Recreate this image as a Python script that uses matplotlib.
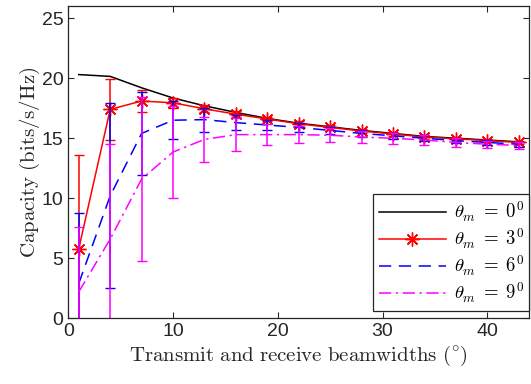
import matplotlib
matplotlib.use("Agg")
import matplotlib.pyplot as plt

# beamwidth grid (degrees) and mean capacity per misalignment angle
beamwidth = [1, 4, 7, 10, 13, 16, 19, 22, 25, 28, 31, 34, 37, 40, 43]

cap_0 = [20.3, 20.15, 19.2, 18.35, 17.7, 17.15, 16.65, 16.25, 15.95, 15.65, 15.4, 15.15, 15.0, 14.85, 14.7]

cap_3 = [5.8, 17.4, 18.1, 17.95, 17.45, 17.0, 16.6, 16.2, 15.9, 15.6, 15.35, 15.1, 14.95, 14.8, 14.65]
err_3 = [7.8, 2.55, 0.9, 0.4, 0.3, 0.25, 0.2, 0.2, 0.2, 0.2, 0.15, 0.15, 0.15, 0.15, 0.15]

cap_6 = [2.9, 10.2, 15.4, 16.5, 16.55, 16.3, 16.1, 15.9, 15.65, 15.4, 15.2, 15.0, 14.8, 14.65, 14.5]
err_6 = [5.9, 7.7, 3.45, 1.6, 1.0, 0.6, 0.4, 0.35, 0.3, 0.3, 0.25, 0.25, 0.2, 0.2, 0.2]

cap_9 = [2.2, 6.6, 11.6, 13.85, 14.9, 15.3, 15.3, 15.3, 15.25, 15.1, 15.0, 14.85, 14.65, 14.5, 14.4]
err_9 = [5.4, 7.9, 6.8, 3.8, 1.9, 1.4, 0.9, 0.7, 0.6, 0.5, 0.45, 0.4, 0.4, 0.3, 0.3]

labels = [r"$\theta_m\;=\;0^0$", r"$\theta_m\;=\;3^0$", r"$\theta_m\;=\;6^0$", r"$\theta_m\;=\;9^0$"]

plt.rcParams["mathtext.fontset"] = "cm"
plt.rcParams["font.family"] = ["Liberation Sans", "DejaVu Sans"]

fig = plt.figure(figsize=(5.31, 3.84), dpi=100)
ax = fig.add_axes([0.1286, 0.171, 0.868, 0.813])

lw = 1.1
cs = 3.6
dash = (0, (8, 5))
dashdot = (0, (8, 3, 1.5, 3))

ax.plot(beamwidth, cap_0, color="black", lw=lw, label=labels[0])
ax.errorbar(beamwidth, cap_3, yerr=err_3, fmt="none", ecolor="red", capsize=cs, elinewidth=lw)
ax.plot(beamwidth, cap_3, color="red", lw=lw, marker=(8, 2, 0), ms=10, mew=1.0, label=labels[1])
ax.errorbar(beamwidth, cap_6, yerr=err_6, fmt="none", ecolor="blue", capsize=cs, elinewidth=lw)
ax.plot(beamwidth, cap_6, color="blue", lw=lw, ls=dash, label=labels[2])
ax.errorbar(beamwidth, cap_9, yerr=err_9, fmt="none", ecolor="magenta", capsize=cs, elinewidth=lw)
ax.plot(beamwidth, cap_9, color="magenta", lw=lw, ls=dashdot, label=labels[3])

ax.set_xlim(0, 44)
ax.set_ylim(0, 26)
ax.set_xticks([0, 10, 20, 30, 40])
ax.set_yticks([0, 5, 10, 15, 20, 25])
ax.tick_params(direction="in", top=True, right=True, labelsize=14,
               colors="#262626", length=4, width=0.8)
for s in ax.spines.values():
    s.set_color("#262626")
    s.set_linewidth(0.9)

ax.set_xlabel(r"$\mathrm{Transmit\ and\ receive\ beamwidths\ (^{\circ})}$", fontsize=15,
              color="#262626", labelpad=3)
ax.set_ylabel(r"$\mathrm{Capacity\ (bits/s/Hz)}$", fontsize=15, color="#262626", labelpad=0)

leg = ax.legend(loc="lower right", bbox_to_anchor=(1.0, 0.025), borderaxespad=0,
                fontsize=13.5, handlelength=3.6, handletextpad=0.4, fancybox=False,
                framealpha=1, edgecolor="#262626", labelspacing=0.15, borderpad=0.3)
leg.get_frame().set_linewidth(0.9)

fig.savefig("out.png", dpi=100)
